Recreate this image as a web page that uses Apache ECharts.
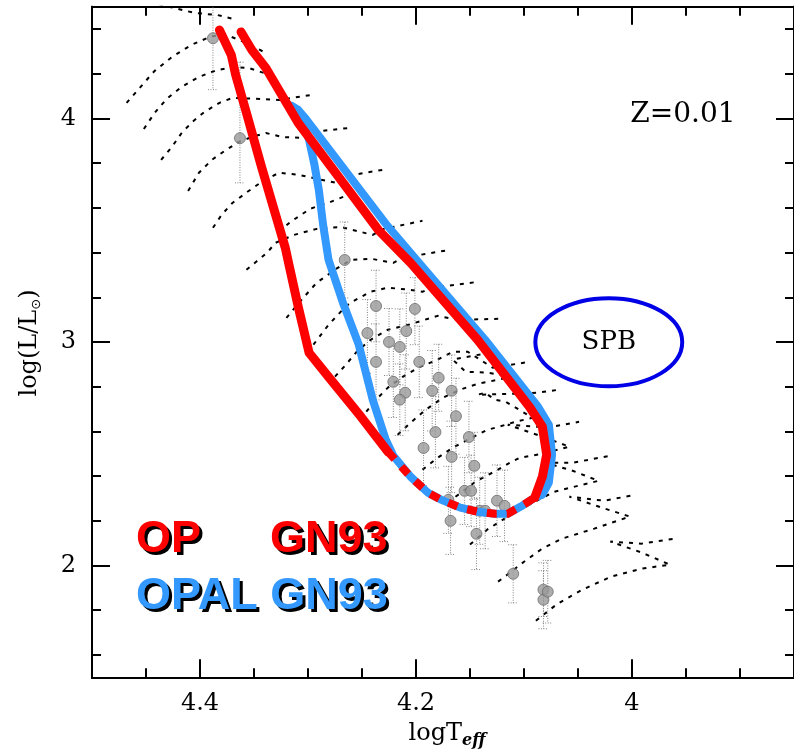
<!DOCTYPE html>
<html>
<head>
<meta charset="utf-8">
<script src="https://cdn.jsdelivr.net/npm/echarts/dist/echarts.min.js"></script>
<style>
html,body{margin:0;padding:0;background:#fff;}
#chart{width:794px;height:751px;}
</style>
</head>
<body>
<div id="chart"></div>
<script>
// ---------- axis ticks ----------
const xMajor = [4.0, 4.2, 4.4];
const xMinor = [3.9, 3.95, 4.05, 4.1, 4.15, 4.25, 4.3, 4.35, 4.45];
const yMajor = [2, 3, 4];
const yMinor = [1.6, 1.8, 2.2, 2.4, 2.6, 2.8, 3.2, 3.4, 3.6, 3.8, 4.2, 4.4];

// ---------- instability strip boundaries (logTeff, logL) ----------
const redLeft = [[4.382,4.396],[4.371,4.284],[4.367,4.195],[4.357,4.025],[4.343,3.783],[4.321,3.421],[4.318,3.354],[4.309,3.157],[4.299,2.952],[4.281,2.844],[4.251,2.666],[4.226,2.509]];
const bottomEdge = [[4.226,2.509],[4.205,2.397],[4.189,2.326],[4.177,2.295],[4.159,2.259],[4.143,2.241],[4.127,2.232],[4.115,2.232],[4.103,2.264],[4.090,2.304]];
const redRight = [[4.090,2.304],[4.083,2.397],[4.079,2.496],[4.083,2.621],[4.095,2.710],[4.143,3.010],[4.205,3.354],[4.235,3.502],[4.309,3.980],[4.339,4.226],[4.352,4.306],[4.362,4.387]];
const blueLeft = [[4.315,4.056],[4.306,3.994],[4.299,3.904],[4.294,3.792],[4.290,3.681],[4.286,3.524],[4.281,3.368],[4.267,3.167],[4.253,2.988],[4.240,2.741],[4.228,2.563],[4.221,2.491]];
const blueRight = [[4.090,2.304],[4.083,2.317],[4.077,2.371],[4.074,2.496],[4.077,2.630],[4.087,2.710],[4.136,3.010],[4.198,3.359],[4.228,3.529],[4.302,3.998],[4.309,4.038],[4.315,4.056]];

// ---------- SPB region: centre logT, centre logL, half-width, half-height ----------
const spb = [[4.0215, 2.999, 0.068, 0.197]];

// ---------- stars: logT, logL, err-, err+ ----------
const stars = [
[4.388,4.359,0.23,0.25],[4.363,3.912,0.20,0.34],[4.266,3.367,0.17,0.17],[4.237,3.161,0.16,0.16],
[4.201,3.148,0.16,0.14],[4.245,3.040,0.18,0.15],[4.209,3.049,0.17,0.17],[4.225,3.000,0.15,0.15],
[4.215,2.978,0.17,0.17],[4.237,2.911,0.17,0.17],[4.197,2.911,0.16,0.16],[4.179,2.840,0.15,0.15],
[4.221,2.822,0.16,0.16],[4.210,2.773,0.17,0.17],[4.185,2.782,0.18,0.18],[4.167,2.782,0.16,0.16],
[4.215,2.742,0.16,0.16],[4.163,2.668,0.17,0.17],[4.182,2.597,0.16,0.16],[4.151,2.575,0.16,0.16],
[4.193,2.526,0.17,0.17],[4.167,2.486,0.16,0.16],[4.146,2.446,0.15,0.15],[4.155,2.334,0.15,0.15],
[4.149,2.334,0.16,0.16],[4.170,2.294,0.15,0.15],[4.125,2.290,0.16,0.16],[4.118,2.267,0.16,0.16],
[4.141,2.245,0.15,0.15],[4.136,2.245,0.17,0.17],[4.168,2.200,0.15,0.15],[4.144,2.142,0.16,0.16],
[4.110,1.963,0.13,0.13],[4.082,1.892,0.12,0.12],[4.082,1.847,0.13,0.13],[4.078,1.883,0.14,0.14]
];

// ---------- evolutionary tracks ----------
const trackU0 = [[4.447,4.521],[4.405,4.472],[4.384,4.463],[4.366,4.441]];
const trackU1 = [[4.468,4.070],[4.442,4.213],[4.426,4.275],[4.408,4.329],[4.389,4.369],[4.373,4.369],[4.357,4.338],[4.339,4.293]];
const trackU2 = [[4.452,3.953],[4.442,4.025],[4.431,4.087],[4.417,4.141],[4.401,4.186],[4.384,4.217],[4.368,4.230],[4.355,4.226],[4.341,4.204]];
const trackU3 = [[4.436,3.815],[4.426,3.873],[4.417,3.935],[4.407,3.985],[4.396,4.029],[4.382,4.070],[4.370,4.092],[4.341,4.087],[4.327,4.083],[4.297,4.105]];
const trackU4 = [[4.411,3.676],[4.401,3.757],[4.389,3.815],[4.376,3.859],[4.364,3.895],[4.352,3.917],[4.339,3.935],[4.324,3.917],[4.304,3.913],[4.295,3.940],[4.261,3.958]];
const trackU5 = [[4.388,3.511],[4.380,3.569],[4.370,3.622],[4.356,3.672],[4.343,3.716],[4.327,3.757],[4.309,3.748],[4.274,3.712],[4.264,3.743],[4.226,3.774]];
const trackU5b = [[4.327,3.493],[4.316,3.538],[4.298,3.596],[4.279,3.627],[4.258,3.667]];
const trackU6 = [[4.357,3.323],[4.348,3.359],[4.338,3.399],[4.330,3.444],[4.313,3.479],[4.292,3.506],[4.270,3.515],[4.240,3.479],[4.230,3.506],[4.194,3.542]];
const trackU7 = [[4.320,3.108],[4.306,3.189],[4.292,3.265],[4.274,3.327],[4.260,3.368],[4.241,3.372],[4.221,3.354],[4.212,3.377],[4.169,3.412]];
const trackU8 = [[4.295,2.988],[4.281,3.077],[4.267,3.149],[4.261,3.175],[4.242,3.225],[4.226,3.243],[4.207,3.234],[4.194,3.225],[4.184,3.243],[4.143,3.269]];
const trackU9 = [[4.275,2.845],[4.265,2.898],[4.255,2.956],[4.242,3.010],[4.226,3.055],[4.207,3.077],[4.180,3.117],[4.161,3.099],[4.122,3.104]];
const trackU10 = [[4.246,2.688],[4.237,2.742],[4.226,2.796],[4.212,2.845],[4.198,2.885],[4.180,2.921],[4.166,2.956],[4.152,2.956],[4.129,2.885],[4.094,2.912]];
const trackT6 = [[4.217,2.585],[4.205,2.639],[4.191,2.697],[4.175,2.751],[4.159,2.787],[4.143,2.813],[4.124,2.831],[4.111,2.845],[4.134,2.863],[4.154,2.867],[4.166,2.921],[4.147,2.939],[4.124,2.956]];
const trackT5 = [[4.194,2.429],[4.180,2.482],[4.166,2.527],[4.152,2.563],[4.134,2.607],[4.123,2.621],[4.108,2.643],[4.092,2.661],[4.117,2.733],[4.127,2.742],[4.136,2.773],[4.143,2.764],[4.106,2.769],[4.088,2.773],[4.067,2.787]];
const trackT4 = [[4.171,2.282],[4.157,2.330],[4.145,2.375],[4.124,2.429],[4.113,2.460],[4.104,2.482],[4.083,2.500],[4.058,2.532],[4.088,2.585],[4.115,2.630],[4.088,2.621],[4.074,2.621],[4.049,2.643]];
const trackT3 = [[4.150,2.094],[4.134,2.161],[4.115,2.219],[4.095,2.273],[4.072,2.330],[4.053,2.353],[4.031,2.379],[4.055,2.424],[4.080,2.460],[4.055,2.460],[4.020,2.491]];
const trackT2 = [[4.124,1.928],[4.113,1.968],[4.100,2.017],[4.083,2.076],[4.065,2.120],[4.035,2.165],[4.002,2.219],[4.028,2.259],[4.058,2.308],[4.026,2.290],[3.996,2.317]];
const trackT1 = [[4.089,1.753],[4.069,1.829],[4.046,1.892],[4.019,1.951],[3.991,1.986],[3.965,2.004],[3.991,2.058],[4.020,2.107],[3.991,2.098],[3.961,2.120]];

const tracks = [trackU0,trackU1,trackU2,trackU3,trackU4,trackU5,trackU5b,trackU6,trackU7,trackU8,trackU9,trackU10,trackT6,trackT5,trackT4,trackT3,trackT2,trackT1];

// ---------- build chart ----------
const chart = echarts.init(document.getElementById('chart'), null, {renderer:'canvas'});
const FONT = '"DejaVu Serif", "Liberation Serif", serif';
const X_MIN = 3.85, X_MAX = 4.5, Y_MIN = 1.5, Y_MAX = 4.5;

function xAxisDef(pos, values, len, labels) {
  return {
    type:'value', min:X_MIN, max:X_MAX, inverse:true, position:pos,
    axisLine:{show:true, onZero:false, lineStyle:{color:'#000', width:2}},
    axisTick:{show:true, inside:true, length:len, customValues:values, lineStyle:{color:'#000', width:2}},
    axisLabel:labels ? {show:true, customValues:values, margin:14, color:'#000', fontSize:24, fontFamily:FONT,
      formatter:v => (Math.abs(v-4)<1e-9 ? '4' : v.toFixed(1))} : {show:false},
    splitLine:{show:false}
  };
}
function yAxisDef(pos, values, len, labels) {
  return {
    type:'value', min:Y_MIN, max:Y_MAX, position:pos,
    axisLine:{show:true, onZero:false, lineStyle:{color:'#000', width:2}},
    axisTick:{show:true, inside:true, length:len, customValues:values, lineStyle:{color:'#000', width:2}},
    axisLabel:labels ? {show:true, customValues:values, margin:16, color:'#000', fontSize:24, fontFamily:FONT,
      formatter:v => String(Math.round(v))} : {show:false},
    splitLine:{show:false}
  };
}

const series = [];
tracks.forEach(t => {
  series.push({
    type:'line', data:t, showSymbol:false, silent:true, z:1, clip:true,
    lineStyle:{color:'#000', width:2, type:[4,6]}
  });
});
// error bars
series.push({
  type:'custom', data:stars, z:2, clip:true, silent:true,
  renderItem:function(params, api){
    const x = api.value(0), y = api.value(1), lo = api.value(2), hi = api.value(3);
    const t = api.coord([x, y+hi]), b = api.coord([x, y-lo]);
    const st = {stroke:'#808080', lineWidth:1, lineDash:[1,1.5]};
    return {type:'group', children:[
      {type:'line', shape:{x1:t[0], y1:t[1], x2:b[0], y2:b[1]}, style:st},
      {type:'line', shape:{x1:t[0]-5, y1:t[1], x2:t[0]+5, y2:t[1]}, style:st},
      {type:'line', shape:{x1:b[0]-5, y1:b[1], x2:b[0]+5, y2:b[1]}, style:st}
    ]};
  }
});
// stars
series.push({
  type:'scatter', data:stars.map(s => [s[0], s[1]]), symbol:'circle', symbolSize:11, z:3, silent:true,
  itemStyle:{color:'#999999', borderColor:'#6e6e6e', borderWidth:1}
});
// blue OPAL boundary (closed)
series.push({
  type:'line', data:blueLeft.concat(bottomEdge.slice(1), blueRight.slice(1)), showSymbol:false, silent:true, z:5,
  lineStyle:{color:'#3399ff', width:8, cap:'round', join:'round'}
});
// red OP boundary
series.push({
  type:'line', data:redLeft, showSymbol:false, silent:true, z:6,
  lineStyle:{color:'#ff0000', width:9, cap:'round', join:'round'}
});
series.push({
  type:'line', data:redRight, showSymbol:false, silent:true, z:6,
  lineStyle:{color:'#ff0000', width:9, cap:'round', join:'round'}
});
series.push({
  type:'line', data:bottomEdge, showSymbol:false, silent:true, z:7,
  lineStyle:{color:'#ff0000', width:8, type:[10,10], cap:'butt', join:'round'}
});
// SPB ellipse
series.push({
  type:'custom', data:spb, z:4, silent:true,
  renderItem:function(params, api){
    const c = api.coord([api.value(0), api.value(1)]);
    const s = api.size([api.value(2), api.value(3)]);
    return {type:'group', children:[
      {type:'ellipse', shape:{cx:c[0], cy:c[1], rx:Math.abs(s[0]), ry:Math.abs(s[1])},
       style:{fill:'none', stroke:'#0000e6', lineWidth:4}},
      {type:'text', x:c[0], y:c[1], style:{text:'SPB', font:'26px ' + FONT, fill:'#000', align:'center', verticalAlign:'middle'}}
    ]};
  }
});

const legendFont = 'bold 45px "Liberation Sans", Arial, sans-serif';
const shadow = {textShadowColor:'#000', textShadowOffsetX:3, textShadowOffsetY:3, textShadowBlur:0.5};

chart.setOption({
  animation:false,
  backgroundColor:'#fff',
  grid:{left:92, right:-4, top:6.7, bottom:73.7, containLabel:false},
  xAxis:[
    xAxisDef('bottom', xMajor, 18, true),
    xAxisDef('bottom', xMinor, 9, false),
    xAxisDef('top', xMajor, 18, false),
    xAxisDef('top', xMinor, 9, false)
  ],
  yAxis:[
    yAxisDef('left', yMajor, 18, true),
    yAxisDef('left', yMinor, 9, false),
    yAxisDef('right', yMajor, 18, false),
    yAxisDef('right', yMinor, 9, false)
  ],
  series:series,
  graphic:[
    {type:'text', x:683, y:115, z:20, style:{text:'Z=0.01', font:'28px ' + FONT, fill:'#000', align:'center', verticalAlign:'middle'}},
    {type:'text', x:136, y:540, z:20, style:Object.assign({text:'OP', font:legendFont, fill:'#ff0000', align:'left', verticalAlign:'middle'}, shadow)},
    {type:'text', x:270, y:540, z:20, style:Object.assign({text:'GN93', font:legendFont, fill:'#ff0000', align:'left', verticalAlign:'middle'}, shadow)},
    {type:'text', x:136, y:597, z:20, style:Object.assign({text:'OPAL GN93', font:legendFont, fill:'#3399ff', align:'left', verticalAlign:'middle'}, shadow)},
    {type:'text', x:30, y:343, rotation:Math.PI/2, z:20, style:{
      text:'{a|log(L/L}{b|⊙}{a|)}', align:'center', verticalAlign:'middle', fill:'#000',
      rich:{a:{fontSize:24, fontFamily:FONT, lineHeight:30, verticalAlign:'middle'},
            b:{fontSize:13, fontFamily:'"DejaVu Sans", sans-serif', lineHeight:30, verticalAlign:'bottom', padding:[0,0,2,0]}}}},
    {type:'text', x:447, y:734, z:20, style:{
      text:'{a|logT}{b|eff}', align:'center', verticalAlign:'middle', fill:'#000',
      rich:{a:{fontSize:24, fontFamily:FONT, lineHeight:30, verticalAlign:'middle'},
            b:{fontSize:16, fontWeight:'bold', fontStyle:'italic', fontFamily:FONT, lineHeight:30, verticalAlign:'bottom'}}}}
  ]
});
</script>
</body>
</html>
